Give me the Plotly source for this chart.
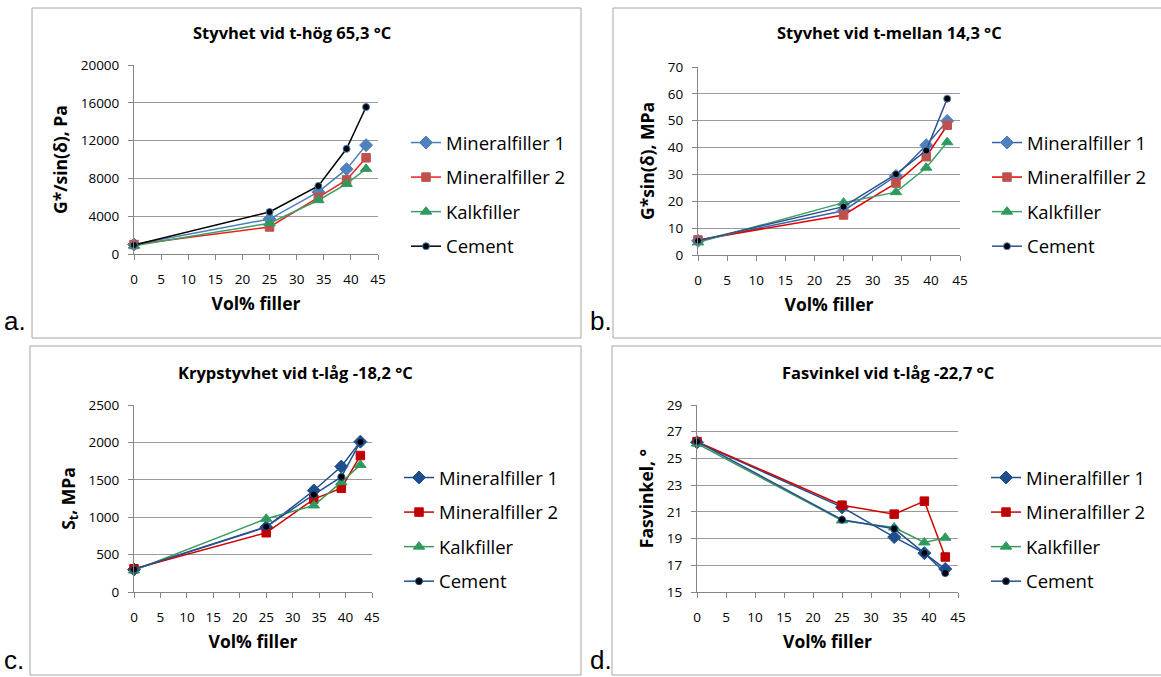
import plotly.graph_objects as go

# ---------------- data ----------------
vol_filler = [0, 25, 34, 39.2, 42.8]
series_names = ["Mineralfiller 1", "Mineralfiller 2", "Kalkfiller", "Cement"]

# a. Styvhet vid t-hög 65,3 °C  (G*/sin(δ), Pa)
a_mf1 = [1000, 3700, 6570, 8980, 11520]
a_mf2 = [1000, 2860, 6000, 7840, 10180]
a_kalk = [880, 3250, 5690, 7420, 9010]
a_cement = [950, 4450, 7200, 11130, 15550]

# b. Styvhet vid t-mellan 14,3 °C  (G*sin(δ), MPa)
b_mf1 = [5.3, 16.5, 29.4, 40.9, 49.9]
b_mf2 = [5.6, 14.9, 26.8, 36.6, 48.3]
b_kalk = [4.7, 19.5, 23.4, 32.5, 42.0]
b_cement = [5.3, 18.0, 30.1, 38.9, 58.2]

# c. Krypstyvhet vid t-låg -18,2 °C  (S_t, MPa)
c_mf1 = [300, 867, 1357, 1677, 2010]
c_mf2 = [311, 792, 1241, 1388, 1824]
c_kalk = [289, 979, 1157, 1468, 1699]
c_cement = [302, 872, 1303, 1539, 2006]

# d. Fasvinkel vid t-låg -22,7 °C  (°)
d_mf1 = [26.21, 21.35, 19.11, 17.91, 16.72]
d_mf2 = [26.26, 21.50, 20.83, 21.80, 17.62]
d_kalk = [26.11, 20.36, 19.83, 18.71, 19.06]
d_cement = [26.26, 20.41, 19.73, 17.91, 16.42]

titles = ["Styvhet vid t-hög 65,3 °C", "Styvhet vid t-mellan 14,3 °C",
          "Krypstyvhet vid t-låg -18,2 °C", "Fasvinkel vid t-låg -22,7 °C"]
y_titles = ["G*/sin(δ), Pa", "G*sin(δ), MPa", "S<sub>t</sub>, MPa", "Fasvinkel, °"]
x_title = "Vol% filler"
panel_letters = ["a.", "b.", "c.", "d."]
x_ticks = [0, 5, 10, 15, 20, 25, 30, 35, 40, 45]
a_ticks = [0, 4000, 8000, 12000, 16000, 20000]
b_ticks = [0, 10, 20, 30, 40, 50, 60, 70]
c_ticks = [0, 500, 1000, 1500, 2000, 2500]
d_ticks = [15, 17, 19, 21, 23, 25, 27, 29]

panel_values = [
    [a_mf1, a_mf2, a_kalk, a_cement],
    [b_mf1, b_mf2, b_kalk, b_cement],
    [c_mf1, c_mf2, c_kalk, c_cement],
    [d_mf1, d_mf2, d_kalk, d_cement],
]
panel_yticks = [a_ticks, b_ticks, c_ticks, d_ticks]

# ---------------- styles ----------------
W, H = 1161, 677
FONT = "Open Sans"

def px_x(v):
    return v / W

def px_y(v):
    return 1 - v / H

# plot-area pixel boxes (left, right, top, bottom)
plot_boxes = [(134, 378, 65, 254), (698, 960, 67, 255),
              (134, 372, 405, 592), (697, 958, 405, 592)]
# chart border boxes (left, right, top, bottom)
border_boxes = [(32, 581, 8, 338), (613, 1175, 8, 338),
                (30, 581, 346, 675), (612, 1175, 346, 675)]
title_pos = [(292, 33), (889, 33), (295, 372), (888, 372)]
legend_pos = [(406, 124), (987, 124), (399, 459), (986, 459)]
letter_pos = [(2, 338), (588, 338), (2, 677), (588, 677)]

symbols = ["diamond", "square", "triangle-up", "circle"]
sizes = [10, 8.5, 10, 7]
style_sets = [
    # panel a
    [dict(line="#4A7EBB", fill="#4F81BD", edge="#4F81BD"),
     dict(line="#E8221F", fill="#C0504D", edge="#C0504D"),
     dict(line="#3CA062", fill="#2E9A5E", edge="#2E9A5E"),
     dict(line="#000000", fill="#000000", edge="#4F81BD")],
    # panel b
    [dict(line="#3564A8", fill="#4F81BD", edge="#4F81BD"),
     dict(line="#E00000", fill="#C0504D", edge="#C0504D"),
     dict(line="#3CA062", fill="#2E9A5E", edge="#2E9A5E"),
     dict(line="#2E4F8C", fill="#000000", edge="#4F81BD")],
    # panel c
    [dict(line="#1F4E8C", fill="#1F4E8C", edge="#1F4E8C"),
     dict(line="#D00000", fill="#C00000", edge="#C00000"),
     dict(line="#3A9A5A", fill="#2E9A5E", edge="#2E9A5E"),
     dict(line="#27508F", fill="#000000", edge="#1F4E8C")],
    # panel d
    [dict(line="#1F4E8C", fill="#1F4E8C", edge="#1F4E8C"),
     dict(line="#D00000", fill="#C00000", edge="#C00000"),
     dict(line="#3A9A5A", fill="#2E9A5E", edge="#2E9A5E"),
     dict(line="#27508F", fill="#000000", edge="#1F4E8C")],
]

fig = go.Figure()
layout = dict(width=W, height=H,
              margin=dict(l=0, r=0, t=0, b=0, pad=0, autoexpand=False),
              paper_bgcolor="white", plot_bgcolor="white",
              font=dict(family=FONT, color="#000000"),
              shapes=[], annotations=[])

for p in range(4):
    ax = "" if p == 0 else str(p + 1)
    leg = "legend" if p == 0 else "legend" + str(p + 1)
    for s in range(4):
        st = style_sets[p][s]
        fig.add_trace(go.Scatter(
            x=vol_filler, y=panel_values[p][s], name=series_names[s],
            mode="lines+markers", xaxis="x" + ax, yaxis="y" + ax,
            legend=leg, legendgroup=f"p{p}s{s}", cliponaxis=False,
            line=dict(color=st["line"], width=1.5),
            marker=dict(symbol=symbols[s], size=sizes[s], color=st["fill"],
                        line=dict(color=st["edge"], width=1)),
        ))
    l, r, t, b = plot_boxes[p]
    yt = panel_yticks[p]
    layout["xaxis" + ax] = dict(
        domain=[px_x(l), px_x(r)], anchor="y" + ax, range=[0, 45],
        tickvals=x_ticks, showgrid=False, zeroline=False, automargin=False,
        showline=True, linecolor="#868686", linewidth=1,
        ticks="outside", ticklen=5, tickcolor="#868686",
        tickfont=dict(family=FONT, size=13.5, color="#000000"),
        ticklabelstandoff=8,
        title=dict(text="<b>" + x_title + "</b>", standoff=10,
                   font=dict(family=FONT, size=17.5, color="#000000")),
    )
    layout["yaxis" + ax] = dict(
        domain=[px_y(b), px_y(t)], anchor="x" + ax, range=[yt[0], yt[-1]],
        tickvals=yt, tickformat="d", showgrid=True, gridcolor="#9A9A9A",
        gridwidth=1, zeroline=False, showline=True, linecolor="#868686",
        linewidth=1, ticks="outside", ticklen=5, tickcolor="#868686",
        automargin=False,
        tickfont=dict(family=FONT, size=13.5, color="#000000"),
        ticklabelstandoff=6,
        title=dict(text="<b>" + y_titles[p] + "</b>", standoff=8,
                   font=dict(family=FONT, size=17.5, color="#000000")),
    )
    lx, ly = legend_pos[p]
    layout[leg] = dict(x=px_x(lx), y=px_y(ly), xanchor="left", yanchor="top",
                       xref="paper", yref="paper", tracegroupgap=7.5,
                       bgcolor="rgba(0,0,0,0)",
                       font=dict(family=FONT, size=18.5, color="#000000"))
    bl, br, bt, bb = border_boxes[p]
    layout["shapes"].append(dict(type="rect", xref="paper", yref="paper",
                                 x0=px_x(bl), x1=px_x(br), y0=px_y(bb), y1=px_y(bt),
                                 line=dict(color="#A6A6A6", width=1),
                                 fillcolor="rgba(0,0,0,0)", layer="below"))
    tx, ty = title_pos[p]
    layout["annotations"].append(dict(text="<b>" + titles[p] + "</b>", xref="paper",
                                      yref="paper", x=px_x(tx), y=px_y(ty),
                                      xanchor="center", yanchor="middle",
                                      showarrow=False,
                                      font=dict(family=FONT, size=16.5, color="#000000")))
    ex, ey = letter_pos[p]
    layout["annotations"].append(dict(text=panel_letters[p], xref="paper", yref="paper",
                                      x=px_x(ex), y=px_y(ey), xanchor="left",
                                      yanchor="bottom", showarrow=False,
                                      font=dict(family="Liberation Sans", size=26,
                                                color="#000000")))

fig.update_layout(**layout)
fig.write_html("out.html")
